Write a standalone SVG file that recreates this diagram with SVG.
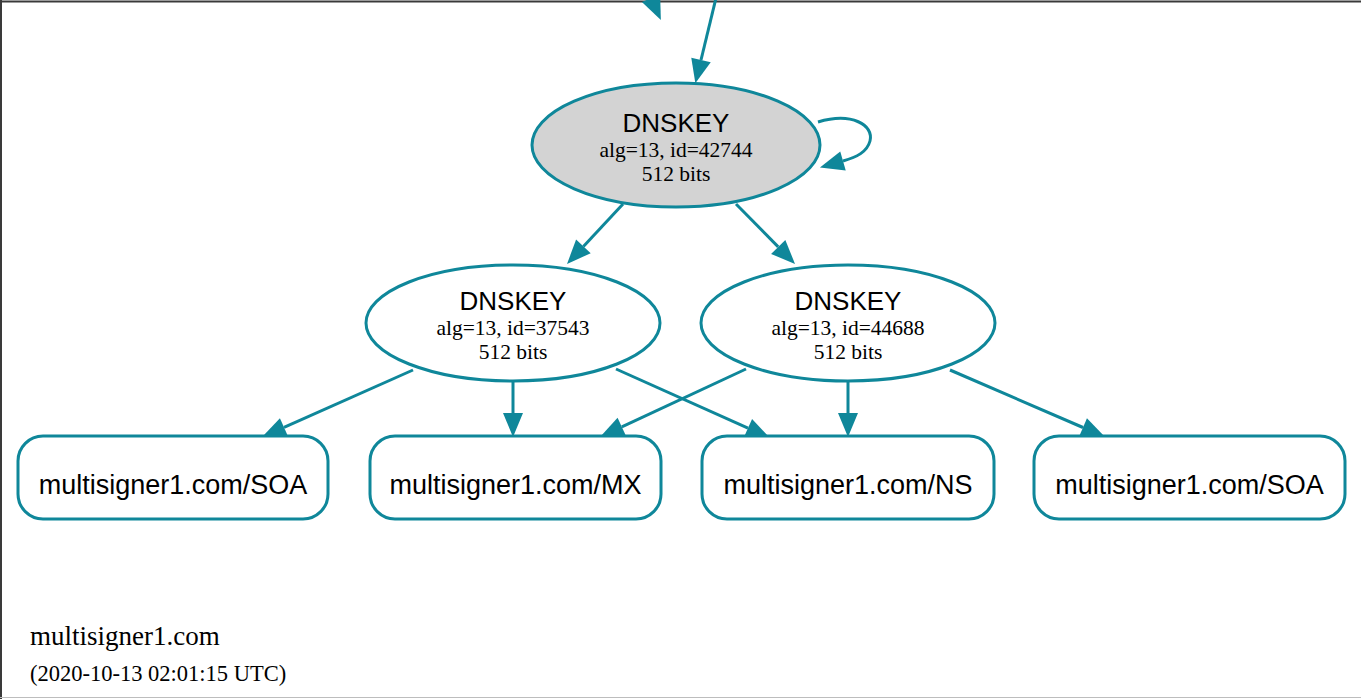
<svg xmlns="http://www.w3.org/2000/svg" width="1361" height="699" viewBox="0 0 1361 699">
  <style>
    .edge { fill: none; stroke: #0f879a; stroke-width: 3; marker-end: url(#arrow); }
    .key { stroke: #0f879a; stroke-width: 3; }
    .rr { fill: #ffffff; stroke: #0f879a; stroke-width: 3; }
    .title { font-family: "Liberation Sans", Arial, sans-serif; font-size: 26px; fill: #000; text-anchor: middle; }
    .sub { font-family: "Liberation Serif", "Times New Roman", serif; font-size: 21.5px; fill: #000; text-anchor: middle; }
    .lbl { font-family: "Liberation Sans", Arial, sans-serif; font-size: 27px; fill: #000; text-anchor: middle; }
    .cap { font-family: "Liberation Serif", "Times New Roman", serif; fill: #000; }
  </style>
  <defs>
    <marker id="arrow" markerUnits="userSpaceOnUse" markerWidth="26" markerHeight="22" refX="0" refY="10" orient="auto" overflow="visible">
      <path d="M0,0 L24,10 L0,20 Z" fill="#0f879a"/>
    </marker>
  </defs>

  <!-- page background and frame -->
  <rect x="0" y="0" width="1361" height="699" fill="#ffffff"/>
  <line x1="0" y1="1.5" x2="1361" y2="1.5" stroke="#3a3a3a" stroke-width="2"/>
  <line x1="1" y1="0" x2="1" y2="699" stroke="#3a3a3a" stroke-width="2"/>
  <line x1="0" y1="697.5" x2="1361" y2="697.5" stroke="#bdbdbd" stroke-width="1"/>

  <!-- connectors -->
  <g id="edges">
    <path class="edge" d="M634.6,-38.4 L651,-2"/>
    <path class="edge" d="M716,-2 L701,60"/>
    <path class="edge" d="M818,122 C852,112 874,125 870,141 C867,152 857,157 843,161"/>
    <path class="edge" d="M623,204 L583.4,246.4"/>
    <path class="edge" d="M736,204 L778.2,246.9"/>
    <path class="edge" d="M413,370 L284,427.3"/>
    <path class="edge" d="M513,381 L513,413"/>
    <path class="edge" d="M616,369 L748,428.2"/>
    <path class="edge" d="M746,369 L621.8,426.9"/>
    <path class="edge" d="M848,381 L848,413"/>
    <path class="edge" d="M950,370 L1083,427.5"/>
  </g>

  <!-- DNSKEY nodes -->
  <g id="dnskey-42744">
    <ellipse class="key" cx="676" cy="145" rx="144" ry="62" fill="#d3d3d3"/>
    <text class="title" x="676" y="132">DNSKEY</text>
    <text class="sub" x="676" y="157">alg=13, id=42744</text>
    <text class="sub" x="676" y="181">512 bits</text>
  </g>
  <g id="dnskey-37543">
    <ellipse class="key" cx="513" cy="323" rx="147" ry="58" fill="#ffffff"/>
    <text class="title" x="513" y="310">DNSKEY</text>
    <text class="sub" x="513" y="335">alg=13, id=37543</text>
    <text class="sub" x="513" y="359">512 bits</text>
  </g>
  <g id="dnskey-44688">
    <ellipse class="key" cx="848" cy="323" rx="147" ry="58" fill="#ffffff"/>
    <text class="title" x="848" y="310">DNSKEY</text>
    <text class="sub" x="848" y="335">alg=13, id=44688</text>
    <text class="sub" x="848" y="359">512 bits</text>
  </g>

  <!-- RRset nodes -->
  <g id="rr-soa-1">
    <rect class="rr" x="18" y="436" width="310" height="83" rx="25" ry="25"/>
    <text class="lbl" x="173" y="494">multisigner1.com/SOA</text>
  </g>
  <g id="rr-mx">
    <rect class="rr" x="370" y="436" width="291" height="83" rx="25" ry="25"/>
    <text class="lbl" x="515.5" y="494">multisigner1.com/MX</text>
  </g>
  <g id="rr-ns">
    <rect class="rr" x="702" y="436" width="292" height="83" rx="25" ry="25"/>
    <text class="lbl" x="848" y="494">multisigner1.com/NS</text>
  </g>
  <g id="rr-soa-2">
    <rect class="rr" x="1034" y="436" width="311" height="83" rx="25" ry="25"/>
    <text class="lbl" x="1189.5" y="494">multisigner1.com/SOA</text>
  </g>

  <!-- zone caption -->
  <g id="caption">
    <text class="cap" x="30" y="645" font-size="27">multisigner1.com</text>
    <text class="cap" x="30" y="681" font-size="22.5">(2020-10-13 02:01:15 UTC)</text>
  </g>
</svg>
